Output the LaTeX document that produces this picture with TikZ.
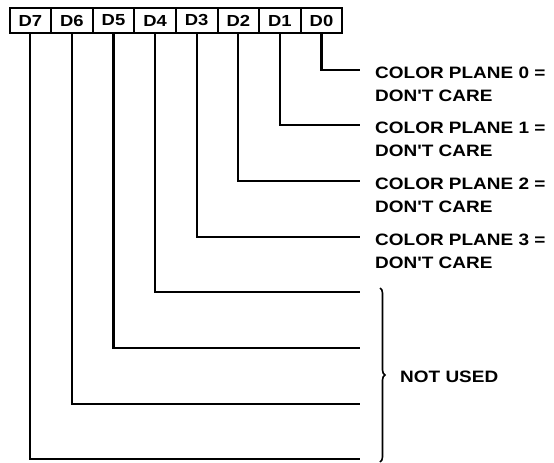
\documentclass[tikz,border=0pt]{standalone}
\usepackage{fontspec}
\newfontfamily\labfont{Liberation Sans}[FakeStretch=1.15]
\newcommand{\boxfont}{\labfont\bfseries\fontsize{16}{16}\selectfont}
\newcommand{\txtfont}{\labfont\bfseries\fontsize{16.5}{16.5}\selectfont}
\usetikzlibrary{decorations.pathreplacing}
\begin{document}
\begin{tikzpicture}[x=1pt,y=-1pt,
  bitbox/.style={draw,line width=2pt,minimum width=41.6pt,minimum height=25pt,inner sep=0pt,font=\boxfont},
  wire/.style={line width=2.2pt},
  lab/.style={anchor=base west,inner sep=0pt,font=\txtfont}]
\useasboundingbox (0,0) rectangle (554,463);
\foreach \i/\n in {0/7,1/6,2/5,3/4,4/3,5/2,6/1,7/0}{
  \node[bitbox] (b\n) at ({9.5+41.6*(\i+0.5)},20.5) {D\n};
}
\foreach \n/\y in {0/70,1/125,2/181,3/237,4/292,5/348,6/404,7/459}{
  \coordinate (e\n) at (360,\y);
  \draw[wire] (b\n.south) |- (e\n);
}
\foreach \n/\y in {0/70,1/125,2/181,3/237}{
  \node[lab] (l\n) at (375,\y+8) {COLOR PLANE \n\ =};
  \node[lab] (m\n) at (375,\y+31) {DON'T CARE};
}
\coordinate (bt) at (380,288);
\coordinate (bb) at (380,462);
\draw[line width=1.6pt,decorate,decoration={brace,amplitude=5pt}] (bt) -- (bb);
\node[lab,anchor=west] (nu) at (400,377) {NOT USED};
\end{tikzpicture}
\end{document}
